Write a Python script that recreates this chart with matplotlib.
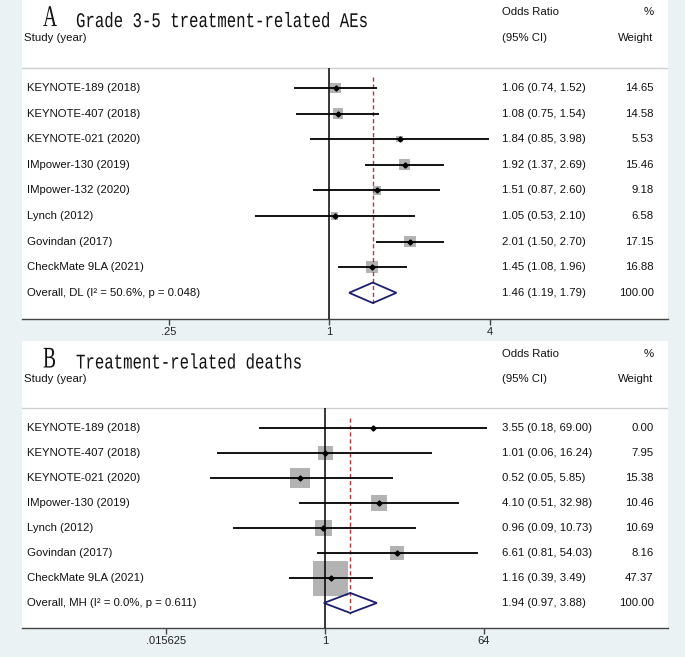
import matplotlib
matplotlib.use('Agg')
import matplotlib.pyplot as plt
from matplotlib.textpath import TextPath
from matplotlib.patches import PathPatch, Polygon
from matplotlib.font_manager import FontProperties
from matplotlib.ticker import NullLocator
from matplotlib import transforms
import numpy as np

# panel A: grade 3-5 treatment-related AEs
studies_a = ['KEYNOTE-189 (2018)', 'KEYNOTE-407 (2018)', 'KEYNOTE-021 (2020)',
             'IMpower-130 (2019)', 'IMpower-132 (2020)', 'Lynch (2012)',
             'Govindan (2017)', 'CheckMate 9LA (2021)']
or_a = [1.06, 1.08, 1.84, 1.92, 1.51, 1.05, 2.01, 1.45]
lo_a = [0.74, 0.75, 0.85, 1.37, 0.87, 0.53, 1.50, 1.08]
hi_a = [1.52, 1.54, 3.98, 2.69, 2.60, 2.10, 2.70, 1.96]
w_a = [14.65, 14.58, 5.53, 15.46, 9.18, 6.58, 17.15, 16.88]
overall_a = [1.46, 1.19, 1.79]
overall_lab_a = 'Overall, DL (I\u00b2 = 50.6%, p = 0.048)'
ticks_a = [0.25, 1, 4]
ticklab_a = ['.25', '1', '4']

# panel B: treatment-related deaths
studies_b = ['KEYNOTE-189 (2018)', 'KEYNOTE-407 (2018)', 'KEYNOTE-021 (2020)',
             'IMpower-130 (2019)', 'Lynch (2012)', 'Govindan (2017)',
             'CheckMate 9LA (2021)']
or_b = [3.55, 1.01, 0.52, 4.10, 0.96, 6.61, 1.16]
lo_b = [0.18, 0.06, 0.05, 0.51, 0.09, 0.81, 0.39]
hi_b = [69.00, 16.24, 5.85, 32.98, 10.73, 54.03, 3.49]
w_b = [0.00, 7.95, 15.38, 10.46, 10.69, 8.16, 47.37]
overall_b = [1.94, 0.97, 3.88]
overall_lab_b = 'Overall, MH (I\u00b2 = 0.0%, p = 0.611)'
ticks_b = [1 / 64, 1, 64]
ticklab_b = ['.015625', '1', '64']

W, H = 685, 657
BG = '#eaf2f3'
SANS = 'Liberation Sans'


def stretched(ax, fx, row, s, family, size, sx, sy, color='#111111'):
    # text drawn as a path so it can be made tall and narrow like the original
    path = TextPath((0, 0), s, size=size, prop=FontProperties(family=family))
    tr = transforms.blended_transform_factory(ax.transAxes, ax.transData)
    x0, y0 = tr.transform((fx, row))
    t = transforms.Affine2D().scale(sx, sy).translate(x0, y0)
    ax.figure.add_artist(PathPatch(path, transform=t, facecolor=color, lw=0))


def forest(ax, letter, title, studies, ors, los, his, ws, overall, overall_lab,
           ticks, ticklabs, xlim, ylim, box_max):
    n = len(studies)
    rows = np.arange(n)
    ax.set_facecolor('white')
    ax.set_xscale('log', base=2)
    ax.set_xlim(xlim)
    ax.set_ylim(ylim)
    for sp in ['top', 'left', 'right']:
        ax.spines[sp].set_visible(False)
    ax.spines['bottom'].set_color('#444444')
    ax.spines['bottom'].set_linewidth(1)
    ax.set_yticks([])
    ax.set_xticks(ticks, ticklabs)
    ax.xaxis.set_minor_locator(NullLocator())
    ax.tick_params(axis='x', length=4, width=1, color='#444444', pad=1.5,
                   labelsize=8, labelcolor='#222222')
    for lab in ax.get_xticklabels():
        lab.set_fontfamily(SANS)

    # header line, null line, overall line
    ax.axhline(-0.8, color='#cfcfcf', lw=1, zorder=1)
    ax.vlines(1, -0.8, ylim[0], color='black', lw=1.1, zorder=3)
    ax.vlines(overall[0], -0.42, n + 0.45, color='#b5383a', lw=1,
              linestyles=(0, (3, 2)), zorder=3)

    # boxes sized by weight (area)
    wmax = max(ws)
    sides = [box_max * np.sqrt(w / wmax) * 0.72 for w in ws]
    ax.scatter(ors, rows, s=[sd ** 2 for sd in sides], marker='s',
               color='#b3b3b3', linewidths=0, zorder=2)
    ax.hlines(rows, los, his, color='black', lw=1.3, zorder=4)
    ax.plot(ors, rows, 'D', color='black', ms=2.6, zorder=5)

    est, lo, hi = overall
    dia = Polygon([(lo, n), (est, n - 0.4), (hi, n), (est, n + 0.4)],
                  closed=True, fill=False, edgecolor='#1b1f6e', lw=1.3,
                  zorder=6)
    ax.add_patch(dia)

    tr = transforms.blended_transform_factory(ax.transAxes, ax.transData)
    fs = 8.2
    txt = dict(transform=tr, fontsize=fs, family=SANS, color='#111111',
               va='center')
    ax.text(0.003, -1.95, 'Study (year)', ha='left', **txt)
    ax.text(0.743, -2.95, 'Odds Ratio', ha='left', **txt)
    ax.text(0.743, -1.95, '(95% CI)', ha='left', **txt)
    ax.text(0.978, -2.95, '%', ha='right', **txt)
    ax.text(0.978, -1.95, 'Weight', ha='right', **txt)
    for i in range(n):
        ax.text(0.008, i, studies[i], ha='left', **txt)
        ax.text(0.743, i, f'{ors[i]:.2f} ({los[i]:.2f}, {his[i]:.2f})',
                ha='left', **txt)
        ax.text(0.978, i, f'{ws[i]:.2f}', ha='right', **txt)
    ax.text(0.008, n, overall_lab, ha='left', **txt)
    ax.text(0.743, n, f'{est:.2f} ({lo:.2f}, {hi:.2f})', ha='left', **txt)
    ax.text(0.978, n, '100.00', ha='right', **txt)

    # panel letter and title
    stretched(ax, (43 - 22) / 646, -2.42, letter, 'Liberation Serif', 30,
              0.65, 1.0)
    stretched(ax, (76 - 22) / 646, -2.38, title, 'Liberation Mono', 15.7,
              1.0, 1.33)


fig = plt.figure(figsize=(W / 100, H / 100), dpi=100, facecolor=BG)

# panel A: white box 22..668 x, 0..319 y (pixels from top)
ax_a = fig.add_axes([22 / W, 1 - 319 / H, 646 / W, 319 / H])
px1_a, k_a = 329, 80.25
xlim_a = (2 ** ((22 - px1_a) / k_a), 2 ** ((668 - px1_a) / k_a))
ylim_a = ((319 - 88) / 25.6, (0 - 88) / 25.6)

# panel B: white box 22..668 x, 341..628 y
ax_b = fig.add_axes([22 / W, 1 - 628 / H, 646 / W, 287 / H])
px1_b, k_b = 325, 26.5
xlim_b = (2 ** ((22 - px1_b) / k_b), 2 ** ((668 - px1_b) / k_b))
ylim_b = ((628 - 428) / 25.0, (341 - 428) / 25.0)

forest(ax_a, 'A', 'Grade 3-5 treatment-related AEs', studies_a, or_a, lo_a,
       hi_a, w_a, overall_a, overall_lab_a, ticks_a, ticklab_a, xlim_a,
       ylim_a, 11.5)
forest(ax_b, 'B', 'Treatment-related deaths', studies_b, or_b, lo_b, hi_b,
       w_b, overall_b, overall_lab_b, ticks_b, ticklab_b, xlim_b, ylim_b, 35)

fig.savefig('out.png', dpi=100, facecolor=BG)
